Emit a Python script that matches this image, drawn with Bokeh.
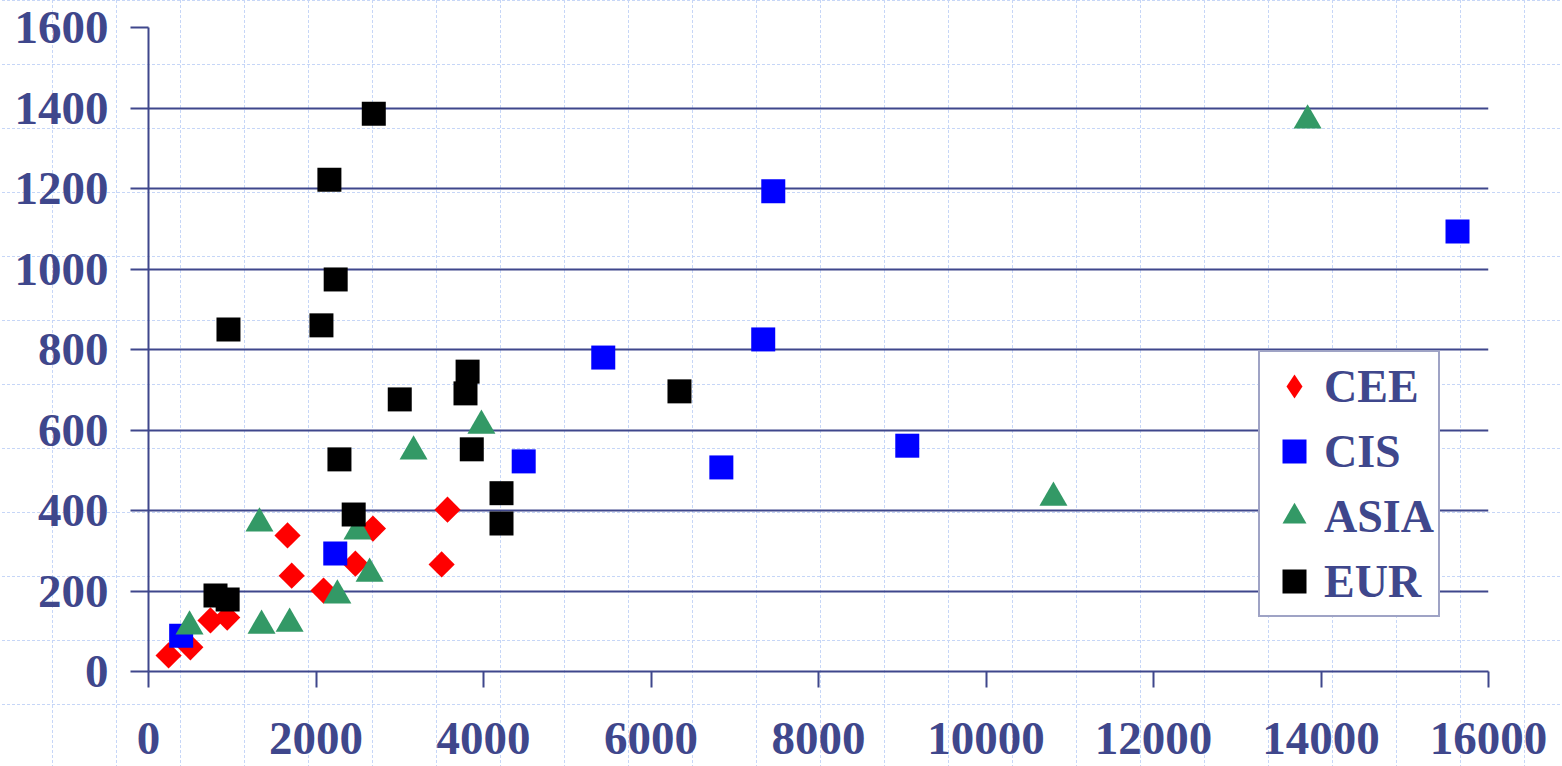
import numpy as np
from bokeh.plotting import figure
from bokeh.models import FixedTicker, Legend, LegendItem
from bokeh.embed import file_html
from bokeh.resources import INLINE

# ---- data ----
cee_x = [240, 500, 740, 940, 1660, 1710, 2090, 2470, 2680, 3570, 3500]
cee_y = [40, 60, 127, 134, 338, 238, 201, 268, 355, 402, 266]

cis_x = [390, 2230, 4480, 5430, 6840, 7340, 7460, 9060, 15630]
cis_y = [89, 293, 522, 780, 507, 825, 1193, 561, 1093]

asia_x = [490, 1325, 1350, 1685, 2255, 2495, 2640, 3165, 3975, 10805, 13840]
asia_y = [112, 368, 114, 119, 189, 348, 243, 547, 611, 432, 1369]

eur_x = [2690, 2160, 2235, 955, 2065, 3810, 3785, 3000, 3860, 2280, 4215, 4215, 2450, 800, 945, 6340]
eur_y = [1386, 1222, 974, 850, 860, 745, 691, 676, 552, 527, 443, 368, 390, 189, 179, 696]

series_names = ["CEE", "CIS", "ASIA", "EUR"]
x_ticks = [0, 2000, 4000, 6000, 8000, 10000, 12000, 14000, 16000]
y_ticks = [0, 200, 400, 600, 800, 1000, 1200, 1400, 1600]

# ---- styling ----
AXIS = "#3f478c"
FONT = "Liberation Serif"
RED, BLUE, GREEN, BLACK = "#ff0000", "#0000ff", "#339966", "#000000"
TEX = "#c6d6f7"

p = figure(width=1562, height=766,
           x_range=(0, 16000), y_range=(0, 1600),
           output_backend="svg", toolbar_location=None,
           min_border_left=148, min_border_right=74,
           min_border_top=27, min_border_bottom=95)

p.background_fill_color = None
p.border_fill_color = None
p.outline_line_color = None
p.styles = {
    "background-color": "white",
    "background-image": (
        f"conic-gradient(at 1px 3px, transparent 75%, {TEX} 0), "
        f"conic-gradient(at 3px 1px, transparent 75%, {TEX} 0)"
    ),
    "background-size": "64px 5px, 5px 64px",
    "background-position": "52px 0px, 52px 0px",
}

r_cee = p.scatter(cee_x, cee_y, marker="square", size=18.5, angle=np.pi / 4,
                  fill_color=RED, line_color=None)
r_cis = p.scatter(cis_x, cis_y, marker="square", size=24,
                  fill_color=BLUE, line_color=None)
r_asia = p.scatter(asia_x, asia_y, marker="triangle", size=28,
                   fill_color=GREEN, line_color=None)
r_eur = p.scatter(eur_x, eur_y, marker="square", size=24,
                  fill_color=BLACK, line_color=None)
# hidden twin of the CEE series, used only for the diamond key in the legend
r_cee_key = p.scatter(cee_x, cee_y, marker="diamond", size=24,
                      fill_color=RED, line_color=None, visible=False)

# axes
for ax in (p.xaxis, p.yaxis):
    ax.axis_line_color = AXIS
    ax.axis_line_width = 2
    ax.major_tick_line_color = AXIS
    ax.major_tick_line_width = 2
    ax.major_tick_in = 0
    ax.minor_tick_in = 0
    ax.minor_tick_out = 0
    ax.major_label_text_font = FONT
    ax.major_label_text_font_style = "bold"
    ax.major_label_text_font_size = "47px"
    ax.major_label_text_color = AXIS

p.xaxis.ticker = FixedTicker(ticks=x_ticks)
p.yaxis.ticker = FixedTicker(ticks=y_ticks)
p.xaxis.major_tick_out = 16
p.yaxis.major_tick_out = 18
p.xaxis.major_label_standoff = 35
p.yaxis.major_label_standoff = 22

p.xgrid.visible = False
p.ygrid.grid_line_color = AXIS
p.ygrid.grid_line_width = 2

legend = Legend(
    items=[
        LegendItem(label=series_names[0], renderers=[r_cee_key]),
        LegendItem(label=series_names[1], renderers=[r_cis]),
        LegendItem(label=series_names[2], renderers=[r_asia]),
        LegendItem(label=series_names[3], renderers=[r_eur]),
    ],
    location=(1110, 54),
    orientation="vertical",
    glyph_width=60, glyph_height=60,
    spacing=5, padding=4, margin=0, label_standoff=0,
    label_text_font=FONT, label_text_font_style="bold",
    label_text_font_size="46px", label_text_color=AXIS,
    border_line_color=AXIS, border_line_width=2,
    background_fill_color="white", background_fill_alpha=1.0,
    inactive_fill_alpha=0.0,
)
p.add_layout(legend)

open("out.html", "w").write(file_html(p, INLINE))
